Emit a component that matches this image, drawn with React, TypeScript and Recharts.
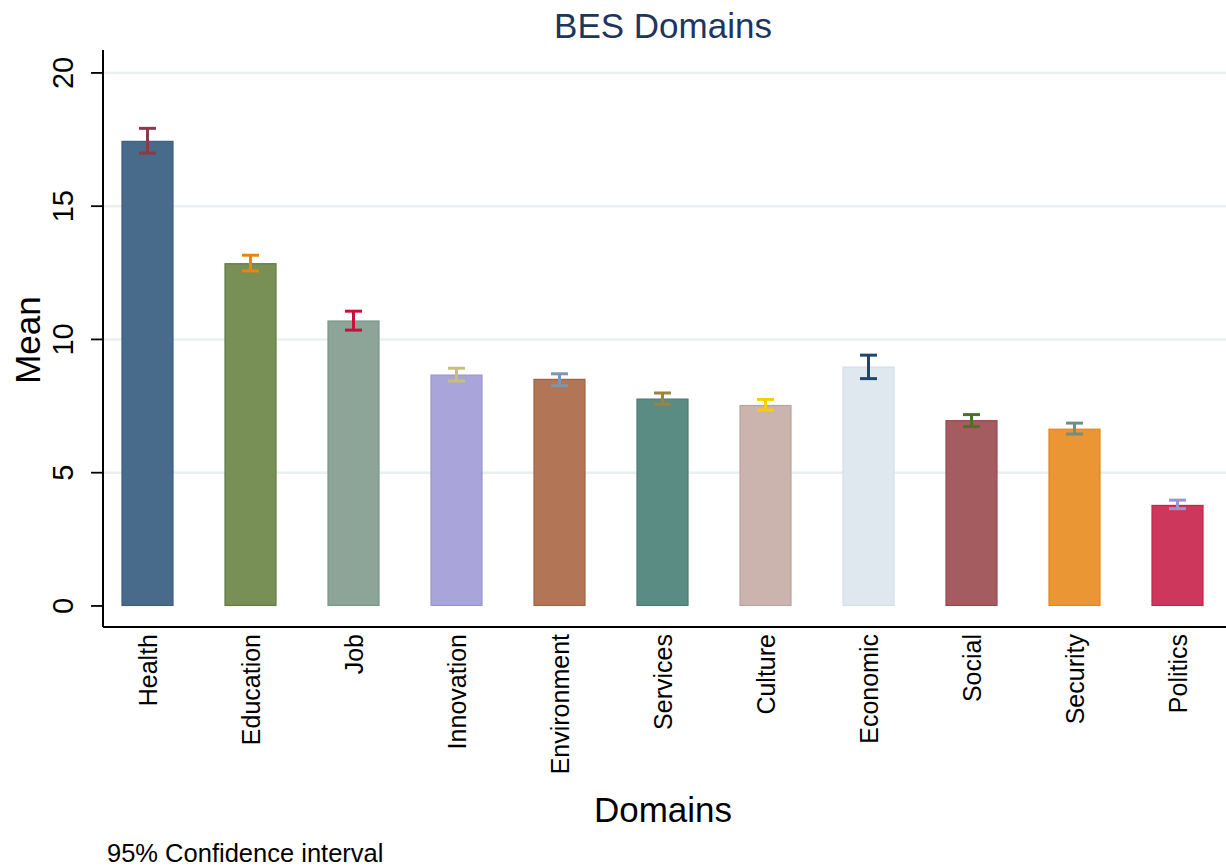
import React from "react";
import { BarChart, Bar, XAxis, YAxis, CartesianGrid } from "recharts";

const categories = ["Health", "Education", "Job", "Innovation", "Environment", "Services", "Culture", "Economic", "Social", "Security", "Politics"];
const means = [17.45, 12.86, 10.71, 8.68, 8.52, 7.78, 7.54, 8.98, 6.97, 6.65, 3.79];
const ciLow = [16.99, 12.57, 10.35, 8.44, 8.26, 7.57, 7.35, 8.53, 6.73, 6.45, 3.65];
const ciHigh = [17.92, 13.16, 11.06, 8.92, 8.71, 7.99, 7.75, 9.41, 7.18, 6.86, 3.97];
const yTicks = [0, 5, 10, 15, 20];
const gridValues = [5, 10, 15, 20];
const xTicks = [1, 2, 3, 4, 5, 6, 7, 8, 9, 10, 11];

const barFill = ["#486b8c", "#788f55", "#8ca598", "#a9a4da", "#b27556", "#5a8c84", "#cbb4ae", "#dfe8ee", "#a55c60", "#ea9634", "#cd375b"];
const barEdge = ["#3b5e80", "#637a43", "#7b958a", "#9994cc", "#a06447", "#4a7a72", "#bca29c", "#d4dfe7", "#93494e", "#e0880f", "#c0264a"];
const ciColor = ["#8b3a48", "#e8860c", "#c8103e", "#c9bf7a", "#7b96b0", "#9a8440", "#f5d000", "#1f456e", "#506f2f", "#6f8e84", "#9b93d4"];

const data = categories.map((name, i) => ({ pos: i + 1, name, mean: means[i], lo: ciLow[i], hi: ciHigh[i] }));

const FONT = "'Liberation Sans', Arial, Helvetica, sans-serif";

const BarShape = (props: any) => {
  const { x, y, width, height, payload, index } = props;
  if (!height || height <= 0) return null;
  const base = y + height;
  const k = height / payload.mean;
  const yHi = base - payload.hi * k;
  const yLo = base - payload.lo * k;
  const cx = x + width / 2;
  const c = ciColor[index];
  const cap = 8.5;
  return (
    <g>
      <rect x={x + 0.5} y={y + 0.5} width={width - 1} height={height - 1} fill={barFill[index]} stroke={barEdge[index]} strokeWidth={1.2} />
      <line x1={cx} x2={cx} y1={yHi} y2={yLo} stroke={c} strokeWidth={3} />
      <line x1={cx - cap} x2={cx + cap} y1={yHi} y2={yHi} stroke={c} strokeWidth={3} />
      <line x1={cx - cap} x2={cx + cap} y1={yLo} y2={yLo} stroke={c} strokeWidth={3} />
    </g>
  );
};

const XTick = (props: any) => {
  const { x, y, payload } = props;
  const label = categories[payload.value - 1] ?? "";
  return (
    <text x={x + 9} y={y} transform={`rotate(-90 ${x + 9} ${y})`} textAnchor="end" fontSize={25} fontFamily={FONT} fill="#000">
      {label}
    </text>
  );
};

const YTick = (props: any) => {
  const { x, y, payload } = props;
  const bx = x - 18;
  return (
    <text x={bx} y={y} transform={`rotate(-90 ${bx} ${y})`} textAnchor="middle" fontSize={29} fontFamily={FONT} fill="#000">
      {payload.value}
    </text>
  );
};

export default function App() {
  return (
    <div style={{ position: "absolute", left: 0, top: 0, width: 1226, height: 867, background: "#fff" }}>
      <BarChart width={1226} height={867} data={data} margin={{ top: 50, right: 0, bottom: 210, left: 43 }}>
        <CartesianGrid horizontal vertical={false} horizontalValues={gridValues} stroke="#e8f0f2" strokeWidth={2.5} />
        <XAxis
          type="number"
          dataKey="pos"
          domain={[1 - 45 / 103, 11 + 48 / 103]}
          ticks={xTicks}
          interval={0}
          allowDataOverflow
          height={30}
          tickLine={false}
          tickMargin={0}
          tickSize={7}
          axisLine={{ stroke: "#000", strokeWidth: 2 }}
          tick={<XTick />}
        />
        <YAxis
          type="number"
          domain={[-0.79, 20.86]}
          ticks={yTicks}
          allowDataOverflow
          width={60}
          tickSize={12}
          tickMargin={0}
          tickLine={{ stroke: "#000", strokeWidth: 1.8 }}
          axisLine={{ stroke: "#000", strokeWidth: 2 }}
          tick={<YTick />}
        />
        <Bar dataKey="mean" barSize={52} isAnimationActive={false} shape={<BarShape />} />
      </BarChart>
      <svg width={1226} height={867} style={{ position: "absolute", left: 0, top: 0, pointerEvents: "none" }}>
        <text x={663} y={38} textAnchor="middle" fontSize={35} fontFamily={FONT} fill="#1e3560">BES Domains</text>
        <text x={40} y={340} transform="rotate(-90 40 340)" textAnchor="middle" fontSize={35} fontFamily={FONT} fill="#000">Mean</text>
        <text x={663} y={822} textAnchor="middle" fontSize={35} fontFamily={FONT} fill="#000">Domains</text>
        <text x={107} y={862} fontSize={25.5} fontFamily={FONT} fill="#000">95% Confidence interval</text>
      </svg>
    </div>
  );
}
